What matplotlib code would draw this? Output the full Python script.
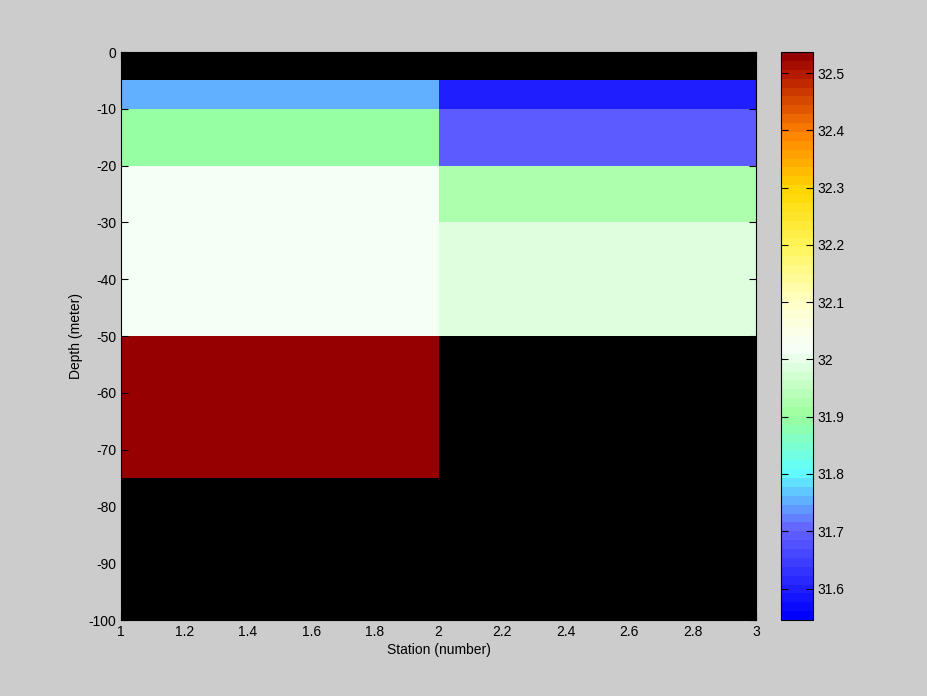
import numpy as np
import matplotlib
matplotlib.use('Agg')
import matplotlib.pyplot as plt
from matplotlib.colors import LinearSegmentedColormap

plt.rcParams['font.family'] = ['Liberation Sans', 'DejaVu Sans']
plt.rcParams['font.size'] = 10
plt.rcParams['axes.unicode_minus'] = False

# --- data: station edges, depth edges, salinity per cell (NaN = no data) ---
station_edges = [1, 2, 3]
depth_edges = [0, -5, -10, -20, -30, -50, -75, -100]
sal_station1 = [np.nan, 31.75, 31.90, 32.02, 32.02, 32.535, np.nan]
sal_station2 = [np.nan, 31.60, 31.70, 31.925, 31.99, np.nan, np.nan]
cmin, cmax = 31.545, 32.537

# colormap anchors (value, rgb)
anchor_vals = [31.545, 31.7, 31.75, 31.8, 31.9, 32.02, 32.1, 32.2, 32.3, 32.4, 32.5, 32.537]
anchor_rgb = [(0, 0, 255), (100, 100, 255), (96, 176, 255), (96, 255, 255),
              (155, 255, 155), (248, 255, 248), (255, 255, 200), (255, 245, 90),
              (255, 215, 0), (255, 130, 0), (185, 30, 0), (150, 0, 0)]

pos = [(v - cmin) / (cmax - cmin) for v in anchor_vals]
cmap = LinearSegmentedColormap.from_list(
    'sal', list(zip(pos, [tuple(c / 255 for c in rgb) for rgb in anchor_rgb])), N=64)

C = np.ma.masked_invalid(np.array([sal_station1, sal_station2]).T)

fig = plt.figure(figsize=(9.28, 6.96), dpi=100, facecolor='#cccccc')
ax = fig.add_axes([121 / 928, 76 / 696, 635 / 928, 568 / 696])
ax.set_facecolor('black')
mesh = ax.pcolormesh(station_edges, depth_edges, C, cmap=cmap, vmin=cmin, vmax=cmax)
ax.set_xlim(1, 3)
ax.set_ylim(-100, 0)
ax.set_xticks(np.arange(1, 3.01, 0.2))
ax.set_xticklabels(['1', '1.2', '1.4', '1.6', '1.8', '2', '2.2', '2.4', '2.6', '2.8', '3'])
ax.set_yticks(np.arange(-100, 1, 10))
ax.tick_params(direction='in', top=True, right=True, length=5, width=0.8, colors='black')
ax.set_xlabel('Station (number)', labelpad=3)
ax.set_ylabel('Depth (meter)')
for s in ax.spines.values():
    s.set_linewidth(0.8)

cax = fig.add_axes([781 / 928, 76 / 696, 32 / 928, 568 / 696])
cb = fig.colorbar(mesh, cax=cax)
cb.set_ticks([31.6, 31.7, 31.8, 31.9, 32.0, 32.1, 32.2, 32.3, 32.4, 32.5])
cb.set_ticklabels(['31.6', '31.7', '31.8', '31.9', '32', '32.1', '32.2', '32.3', '32.4', '32.5'])
cax.tick_params(direction='in', left=True, right=True, length=5, width=0.8)
cb.outline.set_linewidth(0.8)

fig.savefig('out.png', dpi=100, facecolor=fig.get_facecolor())
